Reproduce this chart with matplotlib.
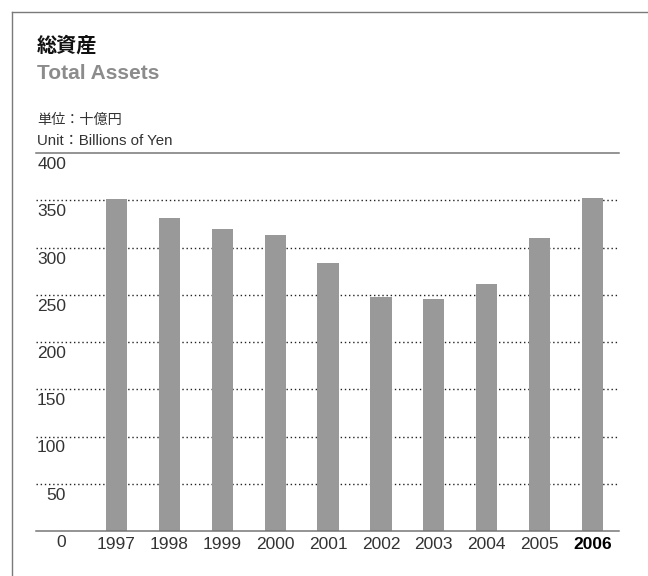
import matplotlib
matplotlib.use("Agg")
import matplotlib.pyplot as plt
from matplotlib.lines import Line2D
from matplotlib.transforms import offset_copy

years = ["1997", "1998", "1999", "2000", "2001", "2002", "2003", "2004", "2005", "2006"]
total_assets = [351, 331, 320, 313, 284, 248, 246, 261, 310, 352]
y_ticks = [0, 50, 100, 150, 200, 250, 300, 350, 400]
title_ja = "総資産"
title_en = "Total Assets"
unit_ja = "単位：十億円"
unit_en = "Unit：Billions of Yen"

W, H = 648, 576
fig = plt.figure(figsize=(W / 100, H / 100), dpi=100)
fig.patch.set_facecolor("white")

LAT = ["Liberation Sans", "Noto Sans CJK JP", "DejaVu Sans"]
CJK = ["Noto Sans CJK JP", "DejaVu Sans"]

def fx(px):
    return px / W

def fy(py):
    return 1 - py / H

# outer frame (top and left edges)
fig.add_artist(Line2D([fx(11.5), 1.0], [fy(11.5), fy(11.5)], color="#7a7a7a", lw=1.0, transform=fig.transFigure))
fig.add_artist(Line2D([fx(11.5), fx(11.5)], [fy(11.5), 0.0], color="#7a7a7a", lw=1.0, transform=fig.transFigure))

# titles
fig.text(fx(37), fy(52), title_ja, family=CJK, fontsize=14.5, fontweight="bold", color="#111111", va="baseline", ha="left")
fig.text(fx(37), fy(79), title_en, family=LAT, fontsize=15, fontweight="bold", color="#8c8c8c", va="baseline", ha="left")
fig.text(fx(37), fy(124), unit_ja, family=CJK, fontsize=10.2, color="#333333", va="baseline", ha="left")
fig.text(fx(37), fy(145), unit_en, family=LAT, fontsize=10.8, color="#333333", va="baseline", ha="left")

# axes
ax_left, ax_right, ax_top, ax_bot = 36, 619, 153, 531
ax = fig.add_axes([fx(ax_left), fy(ax_bot), (ax_right - ax_left) / W, (ax_bot - ax_top) / H])
ax.set_facecolor("none")
x = list(range(len(years)))
ax.bar(x, total_assets, width=0.40, color="#999999", zorder=3)
ax.set_xlim(-1.52, 9.5)
ax.set_ylim(0, 400)

for s in ax.spines.values():
    s.set_visible(False)
ax.axhline(400, color="#777777", lw=1.1, zorder=4, clip_on=False)
ax.axhline(0, color="#777777", lw=1.1, zorder=4, clip_on=False)
for v in y_ticks[1:-1]:
    ax.axhline(v, color="#222222", lw=1.0, linestyle=(0, (1, 2.0)), zorder=2)

ax.set_yticks([])
ytrans = offset_copy(ax.get_yaxis_transform(), fig=fig, x=0, y=-11.5, units="dots")
for v in y_ticks:
    ax.text((66 - ax_left) / (ax_right - ax_left), v, str(v), transform=ytrans,
            ha="right", va="center", family=LAT, fontsize=12.5, color="#333333")

ax.set_xticks(x)
ax.set_xticklabels(years, family=LAT, fontsize=12.5, color="#333333")
ax.tick_params(axis="x", length=0, pad=4.5)
lbls = ax.get_xticklabels()
lbls[-1].set_fontweight("bold")
lbls[-1].set_color("#000000")

fig.savefig("out.png", dpi=100, facecolor="white")
